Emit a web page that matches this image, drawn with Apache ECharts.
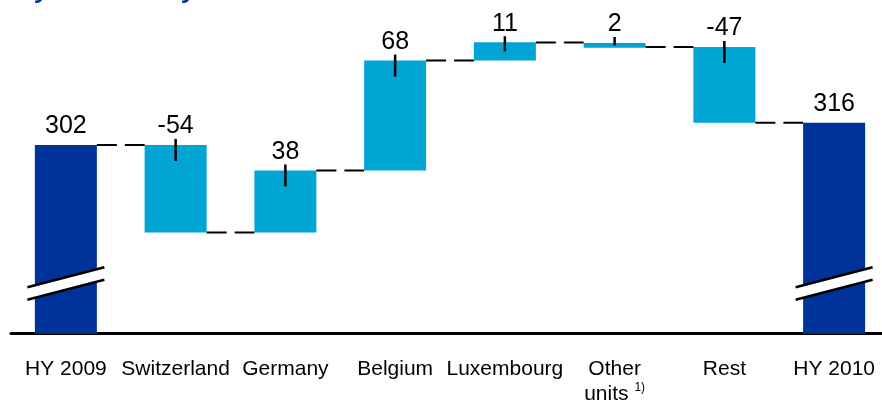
<!DOCTYPE html>
<html>
<head>
<meta charset="utf-8">
<script src="https://cdn.jsdelivr.net/npm/echarts@6/dist/echarts.min.js"></script>
<style>
  html, body { margin: 0; padding: 0; background: #fff; }
  #chart { width: 882px; height: 401px; }
</style>
</head>
<body>
<div id="chart"></div>
<script>
// waterfall data
const categories = ["HY 2009", "Switzerland", "Germany", "Belgium", "Luxembourg", "Other units", "Rest", "HY 2010"];
const valueLabels = ["302", "-54", "38", "68", "11", "2", "-47", "316"];
const barLow = [0, 247, 247, 286, 355, 363, 316, 0];
const barHigh = [302, 302, 286, 355, 366.5, 366, 363.5, 316];
const isTotal = [true, false, false, false, false, false, false, true];
const connectorLevels = [302, 247, 286, 355, 366.3, 363.5, 316];
const breakLevel = 215;

const DARK = "#003399";
const LIGHT = "#00A5D4";
const BAR_W = 62;

const chart = echarts.init(document.getElementById("chart"));

const option = {
  animation: false,
  grid: { left: 11, top: 20.7, width: 878, height: 313, outerBoundsMode: "none" },
  xAxis: {
    type: "category",
    data: categories,
    axisLine: { lineStyle: { color: "#000", width: 3 } },
    axisTick: { show: false },
    axisLabel: {
      interval: 0,
      margin: 23,
      formatter: (v) =>
        v === "Other units" ? "{a|Other}\n{a|units }{s|1)}" : "{a|" + v + "}",
      rich: {
        a: { fontFamily: "Liberation Sans, Arial", fontSize: 21, color: "#000", lineHeight: 25 },
        s: { fontFamily: "Liberation Sans, Arial", fontSize: 12, color: "#000", lineHeight: 25, verticalAlign: "top", padding: [0, 0, 8, 0] },
      },
    },
  },
  yAxis: {
    type: "value",
    min: 183.5,
    max: 380,
    show: false,
    splitLine: { show: false },
  },
  graphic: [
    { type: "text", left: 36, top: -22, style: { text: "y", font: "italic bold 26px Liberation Sans", fill: DARK } },
    { type: "text", left: 183, top: -22, style: { text: "y", font: "italic bold 26px Liberation Sans", fill: DARK } },
  ],
  series: [
    {
      // invisible base of each floating bar
      type: "bar",
      stack: "wf",
      barWidth: BAR_W,
      silent: true,
      itemStyle: { color: "transparent" },
      data: barLow,
    },
    {
      type: "bar",
      stack: "wf",
      barWidth: BAR_W,
      data: barHigh.map((h, i) => h - barLow[i]),
      itemStyle: {
        color: (p) => (isTotal[p.dataIndex] ? DARK : LIGHT),
      },
      label: {
        show: true,
        position: "top",
        distance: 6,
        fontFamily: "Liberation Sans, Arial",
        fontSize: 25,
        color: "#000",
        formatter: (p) => valueLabels[p.dataIndex],
      },
    },
    {
      // dashed connectors between bars
      type: "custom",
      silent: true,
      data: connectorLevels.map((v, i) => [i, v]),
      renderItem: (params, api) => {
        const i = api.value(0);
        const v = api.value(1);
        const a = api.coord([i, v]);
        const b = api.coord([i + 1, v]);
        return {
          type: "line",
          shape: { x1: a[0] + BAR_W / 2, y1: a[1], x2: b[0] - BAR_W / 2, y2: b[1] },
          style: { stroke: "#000", lineWidth: 2, lineDash: [20, 8] },
        };
      },
      z: 3,
    },
    {
      // little vertical ticks on the change bars
      type: "custom",
      silent: true,
      data: categories
        .map((c, i) => [i, barLow[i], barHigh[i]])
        .filter((d) => !isTotal[d[0]]),
      renderItem: (params, api) => {
        const i = api.value(0);
        const top = api.coord([i, api.value(2)]);
        const bot = api.coord([i, api.value(1)]);
        const y2 = Math.min(top[1] + 16, (top[1] + bot[1]) / 2);
        return {
          type: "line",
          shape: { x1: top[0], y1: top[1] - 6, x2: top[0], y2: y2 },
          style: { stroke: "#000", lineWidth: 2.5 },
        };
      },
      z: 4,
    },
    {
      // axis break marks on the total bars
      type: "custom",
      silent: true,
      data: categories.map((c, i) => [i, breakLevel]).filter((d) => isTotal[d[0]]),
      renderItem: (params, api) => {
        const c = api.coord([api.value(0), api.value(1)]);
        const hw = 38.5, rise = 10, gap = 6.3;
        const x1 = c[0] - hw, x2 = c[0] + hw;
        return {
          type: "group",
          children: [
            {
              type: "polygon",
              shape: {
                points: [
                  [x1, c[1] - gap + rise], [x2, c[1] - gap - rise],
                  [x2, c[1] + gap - rise], [x1, c[1] + gap + rise],
                ],
              },
              style: { fill: "#fff" },
            },
            {
              type: "line",
              shape: { x1: x1, y1: c[1] - gap + rise, x2: x2, y2: c[1] - gap - rise },
              style: { stroke: "#000", lineWidth: 2.5 },
            },
            {
              type: "line",
              shape: { x1: x1, y1: c[1] + gap + rise, x2: x2, y2: c[1] + gap - rise },
              style: { stroke: "#000", lineWidth: 2.5 },
            },
          ],
        };
      },
      z: 5,
    },
  ],
};

chart.setOption(option);
</script>
</body>
</html>
